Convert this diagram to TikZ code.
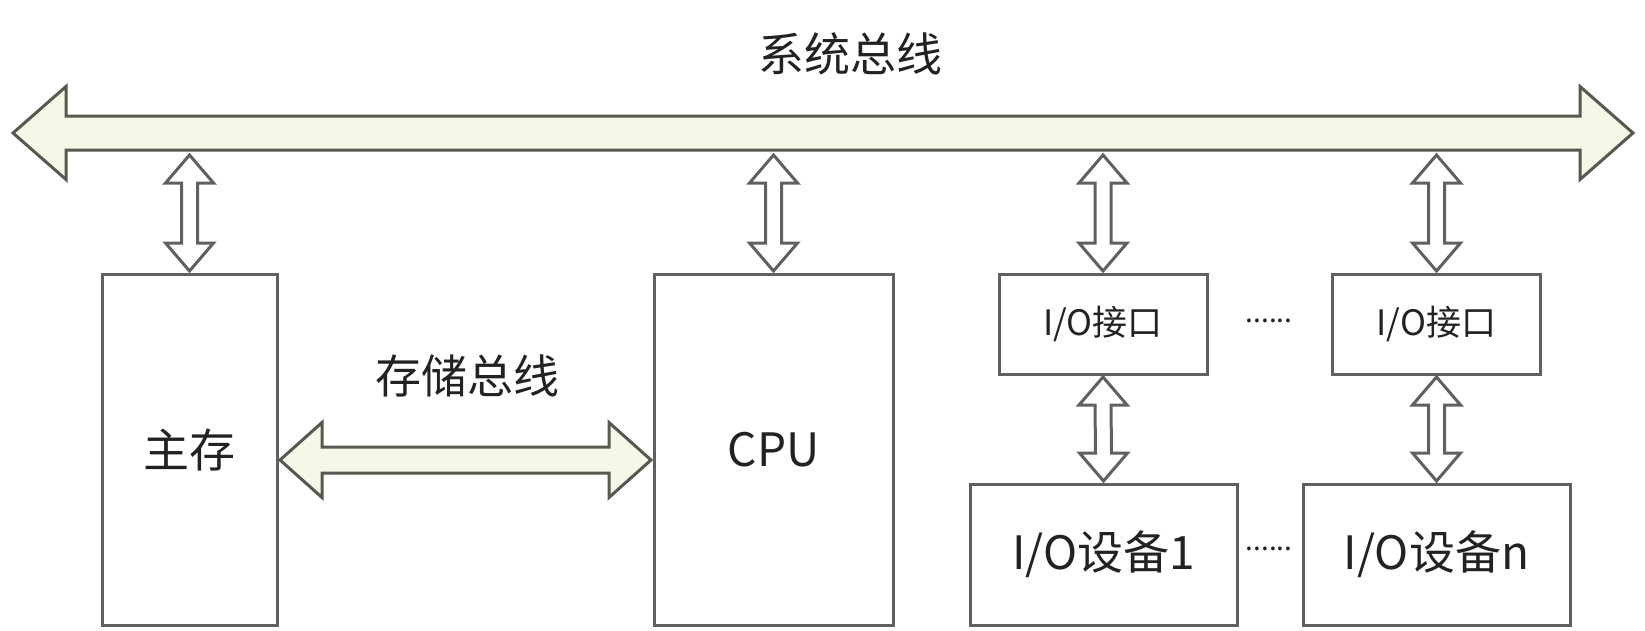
\documentclass[tikz,border=0pt]{standalone}
\usepackage{fontspec}
\setmainfont{Noto Sans CJK SC}
\usetikzlibrary{calc}
\definecolor{edgegray}{HTML}{606060}
\definecolor{busline}{HTML}{57584F}
\definecolor{busfill}{HTML}{F5F8E7}
\definecolor{txt}{HTML}{222222}
\tikzstyle{unit} = [rectangle, draw=edgegray, line width=3pt, outer sep=3pt,
text=txt, font=\fontsize{46}{50}\selectfont]
\tikzstyle{port} = [unit, font=\fontsize{35}{40}\selectfont]
\tikzstyle{caption} = [text=txt, font=\fontsize{46}{50}\selectfont]
\tikzstyle{gap} = [text=txt, font=\fontsize{28}{30}\selectfont]
\tikzstyle{link} = [draw=edgegray, fill=white, line width=3pt]
\tikzstyle{bus} = [draw=busline, fill=busfill, line width=3pt]
\newcommand{\vlink}[2]{ %
  % Fat two-way arrow from #1 (top tip) down to #2 (bottom tip).
  \draw[link] #1 -- ++(24,28) -- ++(-16,0) -- ($#2+(8,-28)$) -- ++(16,0)
    -- #2 -- ++(-24,-28) -- ++(16,0) -- ($#1+(-8,28)$) -- ++(-16,0) -- cycle;
}
\newcommand{\hlink}[5]{ %
  % Bus arrow from #1 to #2; head length #3, head half #4, shaft half #5.
  \draw[bus] #1 -- ++(#3,-#4) -- ++(0,#4-#5) -- ($#2+(-#3,-#5)$)
    -- ++(0,#5-#4) -- #2 -- ++(-#3,#4) -- ++(0,#5-#4)
    -- ($#1+(#3,#5)$) -- ++(0,#4-#5) -- cycle;
}

\begin{document}
\begin{tikzpicture}[x=1pt, y=-1pt]
    \useasboundingbox (0,0) rectangle (1645,630);
    \node[unit, minimum width=175pt, minimum height=351pt] (mem) at (189.5,449.5) {主存};
    \node[unit, minimum width=239pt, minimum height=351pt] (cpu) at (773.5,449.5) {CPU};
    \node[port, minimum width=208pt, minimum height=100pt] (if1) at (1103,324) {I/O接口};
    \node[port, minimum width=208pt, minimum height=100pt] (if2) at (1436.5,324) {I/O接口};
    \node[unit, minimum width=267pt, minimum height=141pt] (dev1) at (1103.5,554.5) {I/O设备1};
    \node[unit, minimum width=267pt, minimum height=141pt] (dev2) at (1436.5,554.5) {I/O设备n};
    \node[gap] (ifdots) at (1269,321) {......};
    \node[gap] (devdots) at (1269,549) {......};
    % system bus
    \coordinate (busL) at (13,133);
    \coordinate (busR) at (1633,133);
    \coordinate (sysbus) at (823,155);
    \hlink{(busL)}{(busR)}{53}{46.5}{17}
    \node[caption] (systitle) at (850,54) {系统总线};
    \foreach \n in {mem,cpu,if1,if2} {
      \vlink{(\n.north |- sysbus)}{(\n.north)}
    }
    \vlink{(if1.south)}{(dev1.north)}
    \vlink{(if2.south)}{(dev2.north)}
    % memory bus
    \coordinate (stor) at (466,460);
    \hlink{(mem.east |- stor)}{(cpu.west |- stor)}{42}{37.5}{13}
    \node[caption] (stortitle) at (467,376) {存储总线};
\end{tikzpicture}
\end{document}
